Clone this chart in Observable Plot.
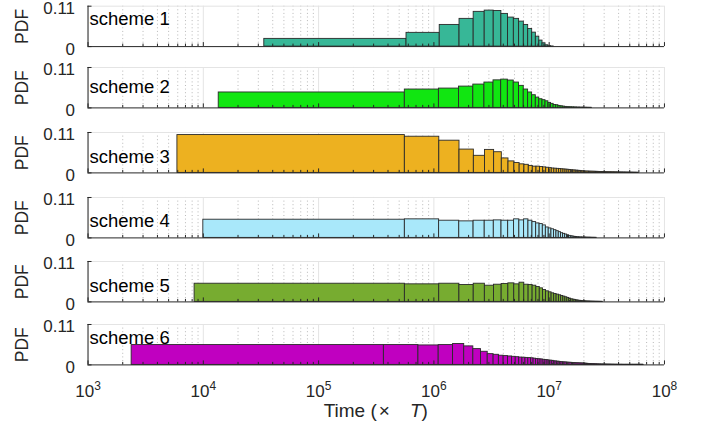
<!DOCTYPE html>
<html><head><meta charset="utf-8">
<script src="https://cdn.jsdelivr.net/npm/d3@7"></script>
<script src="https://cdn.jsdelivr.net/npm/@observablehq/plot@0.6"></script>
<style>
body{margin:0;background:#fff;}
#chart{position:relative;width:704px;height:437px;overflow:hidden;font-family:"Liberation Sans",Arial,Helvetica,sans-serif;color:#262626;}
.panel{position:absolute;left:0;}
#xlabel{position:absolute;font-size:19px;line-height:22px;text-align:center;white-space:nowrap;}
</style></head><body><div id="chart"></div>
<script>
// ---------------- data ----------------
const schemes = ["scheme 1","scheme 2","scheme 3","scheme 4","scheme 5","scheme 6"];
// first bin edge (minimum) and uniform bin width of each histogram (time, × T)
const binStart = [3.38e4, 1.36e4, 5.96e3, 1.0e4, 8.4e3, 2.39e3];
const binWidth = [5.45e5, 5.46e5, 5.54e5, 5.5e5, 5.52e5, 3.66e5];

const pdf1 = [0.021,0.0374,0.059,0.0755,0.0946,0.098,0.097,0.089,0.079,0.0755,0.068,0.059,0.048,0.038,0.027,0.0164,0.009,0.0036,0.001,0.0004];
const pdf2 = [0.042,0.05,0.0526,0.058,0.0635,0.069,0.075,0.077,0.0745,0.069,0.06,0.05,0.042,0.0345,0.028,0.0236,0.021,0.018,0.0136,0.011,
  0.008,0.0073,0.0054,0.0045,0.0036,0.0027,0.0022,0.002,0.0018,0.0016,0.0014,0.0012,0.001,0.0009,0.0008,0.0007,0.0006,0.0005,0.0004,0.0003,
  0.0003,0.0002,0.0002];
const pdf3 = [0.103,0.0985,0.0877,0.0635,0.0465,0.0626,0.0563,0.0394,0.0313,0.0268,0.0233,0.022,0.019,0.017,0.017,0.016,0.015,0.014,
  0.013,0.012,0.0115,0.011,0.0105,0.01,0.0095,0.009,0.0085,0.008,0.0075,0.007,0.0066,0.0062,0.0058,0.0054,0.005,0.0046,
  0.0042,0.004,0.0038,0.0036,0.0035,0.0034,0.0033,0.0032,0.0031,0.003,
  0.0029,0.0028,0.0027,0.0026,0.0025,0.0024,0.0023,0.0022,0.0021,0.002,
  0.0019,0.0019,0.0018,0.0018,0.0017,0.0017,0.0016,0.0016,0.0015,0.0015,
  0.0014,0.0014,0.0013,0.0013,0.0012,0.0012,0.0011,0.0011,0.001,0.001,
  0.001,0.0009,0.0009,0.0009,0.0008,0.0008,0.0008,0.0007,0.0007,0.0007,
  0.0006,0.0006,0.0006,0.0006,0.0005,0.0005,0.0005,0.0005,0.0004,0.0004,
  0.0004,0.0004,0.0003,0.0003,0.0003,0.0003,0.0003,0.0002,0.0002,0.0002,
  0.0002,0.0001];
const pdf4 = [0.0495,0.0505,0.0468,0.045,0.0468,0.0468,0.0477,0.0468,0.0468,0.0505,0.0477,0.0505,0.0468,0.043,0.0394,0.0376,0.034,0.0284,0.0258,0.0235,
  0.021,0.0183,0.0156,0.0128,0.011,0.0092,0.0073,0.0055,0.0046,0.0037,0.0028,0.0024,0.002,0.0017,0.0014,0.0012,0.001,0.0009,0.0008,0.0007,
  0.0006,0.0005,0.0004,0.0003,0.0003,0.0002,0.0002];
const pdf5 = [0.0495,0.0478,0.0495,0.0459,0.0495,0.0441,0.0468,0.0486,0.0505,0.0478,0.0523,0.0468,0.0459,0.0441,0.0405,0.0369,0.0324,0.0288,0.0261,0.0234,
  0.0216,0.0198,0.018,0.0162,0.0144,0.0126,0.0108,0.009,0.0072,0.0063,0.0054,0.0045,0.0036,0.003,0.0026,0.0022,0.0019,0.0016,0.0014,0.0012,
  0.001,0.0009,0.0008,0.0007,0.0006,0.0005,0.0004,0.0004,0.0003,0.0003,0.0002,0.0002,0.0001];
const pdf6 = [0.054,0.054,0.053,0.054,0.057,0.0504,0.043,0.0357,0.0293,0.0275,
  0.025,0.024,0.023,0.022,0.021,0.02,0.0195,0.019,0.0185,0.018,
  0.017,0.016,0.0155,0.015,0.014,0.0135,0.013,0.012,0.0115,0.011,
  0.01,0.0095,0.009,0.0085,0.008,0.0075,0.0072,0.007,0.0066,0.0063,
  0.006,0.0058,0.0056,0.0054,0.0052,0.005,0.0048,0.0046,0.0045,0.0044,
  0.0042,0.0041,0.004,0.0039,0.0038,0.0036,0.0034,0.0032,0.003,0.0028,
  0.0026,0.0025,0.0024,0.0023,0.0022,0.0021,0.002,0.0019,0.0018,0.0017,
  0.0016,0.0015,0.0014,0.0013,0.0012,0.0012,0.0011,0.0011,0.001,0.001,
  0.0009,0.0009,0.0008,0.0008,0.0008,0.0007,0.0007,0.0007,0.0006,0.0006,
  0.0006,0.0006,0.0005,0.0005,0.0005,0.0005,0.0004,0.0004,0.0004,0.0004,
  0.0004,0.0003,0.0003,0.0003,0.0003,0.0003,0.0003,0.0003,0.0002,0.0002,
  0.0002,0.0002,0.0002,0.0002,0.0002,0.0002,0.0002,0.0002,0.0002,0.0001,
  0.0002,0.0001,0.0001,0.0001,0.0001,0.0001,0.0001,0.0002,0.0001,0.0001,
  0.0001,0.0001,0.0001,0.0001,0.0001,0.0001,0.0001,0.0001,0.0001,0.0001,
  0.0001,0.0001,0.0001,0.0001,0.0001,0.0002,0.0001,0.0001,0.0001,0.0001,
  0.0001,0.0001,0.0001,0.0001,0.0001,0.0001,0.0001,0.0001,0.0001,0.0001,
  0.0001,0.0001,0.0001,0.0001,0.0001,0.0001,0.0001,0.0001,0.0001,0.0001,
  0.0001,0.0001,0.0001,0.0001,0.0001,0.0001,0.0001,0.0001,0.0001,0.0001];
const pdfs = [pdf1, pdf2, pdf3, pdf4, pdf5, pdf6];

const xTicks = [1e3, 1e4, 1e5, 1e6, 1e7, 1e8];
const xTickExponents = ["3","4","5","6","7","8"];
const yTicks = [0, 0.11];
const yTickLabels = ["0", "0.11"];

// ---------------- layout / style ----------------
const colors = ["#37b797", "#11e611", "#edb120", "#a9e8fa", "#77ac30", "#c000c0"];
const W = 704, ML = 87.5, MR = 40, PH = 40.4;
const panelTops = [5.7, 67.3, 132, 197, 260.5, 324];
const labelOffsets = [13.3, 19.7, 25, 24, 24.5, 14];
const axisColor = "#262626";
const FONT = '"Liberation Sans", Arial, Helvetica, sans-serif';
const TICK_PX = 17, YLABEL_PX = 17.5, SCHEME_PX = 18.5;

const minorTicks = [];
for (const d of xTicks.slice(0, -1)) for (let m = 2; m <= 9; m++) minorTicks.push(d * m);

const chart = document.getElementById("chart");
let lastPlot = null;

pdfs.forEach((vals, i) => {
  const bins = vals.map((v, k) => ({x1: binStart[i] + k * binWidth[i], x2: binStart[i] + (k + 1) * binWidth[i], y: v}));
  const last = i === pdfs.length - 1;
  const mt = Math.min(12, panelTops[i]), mb = last ? 75 : 10;
  const yTickData = yTicks.map((v, j) => ({v, label: yTickLabels[j]}));
  const marks = [
    Plot.ruleX(minorTicks, {stroke: "#b8b8b8", strokeDasharray: "1,2.6", strokeWidth: 1}),
    Plot.ruleX(xTicks, {stroke: "#e4e4e4", strokeWidth: 1}),
    Plot.ruleY([0.11], {stroke: "#e4e4e4", strokeWidth: 1}),
    Plot.rect(bins, {x1: "x1", x2: "x2", y1: 0, y2: "y", fill: colors[i], stroke: "#2a2a2a", strokeWidth: 0.9}),
    Plot.tickX(minorTicks, {x: d => d, stroke: axisColor, insetTop: PH - 2.5}),
    Plot.tickX(xTicks, {x: d => d, stroke: axisColor, insetTop: PH - 4}),
    Plot.ruleY([0], {stroke: axisColor}),
    Plot.ruleX([1e3], {stroke: axisColor}),
    Plot.tickY(yTicks, {y: d => d, stroke: axisColor, insetRight: (W - ML - MR) - 4}),
    Plot.text(yTickData, {x: 1e3, y: "v", text: "label", textAnchor: "end", lineAnchor: "middle", dx: -13, dy: 2.5, fontSize: TICK_PX, fill: axisColor}),
    Plot.text(["PDF"], {text: d => d, frameAnchor: "left", textAnchor: "middle", lineAnchor: "middle", rotate: -90, dx: -65.5, dy: 0, fontSize: YLABEL_PX, fill: axisColor}),
    Plot.text([schemes[i]], {text: d => d, frameAnchor: "top-left", textAnchor: "start", dx: 1.5, dy: labelOffsets[i], lineAnchor: "middle", fontSize: SCHEME_PX, fill: "#000"})
  ];
  if (last) {
    marks.push(Plot.text(xTicks, {x: d => d, text: (d, j) => "10^" + xTickExponents[j], frameAnchor: "bottom", textAnchor: "middle", lineAnchor: "middle", dy: 27, fontSize: TICK_PX, fill: axisColor}));
  }
  const p = Plot.plot({
    width: W, height: mt + PH + mb,
    marginTop: mt, marginBottom: mb, marginLeft: ML, marginRight: MR,
    x: {type: "log", domain: [1e3, 1e8], axis: null},
    y: {domain: [0, 0.11], axis: null},
    style: {fontFamily: FONT, background: "transparent", overflow: "visible"},
    marks
  });
  p.classList.add("panel");
  p.style.top = (panelTops[i] - mt) + "px";
  // make sure each text gets its intended size
  p.querySelectorAll("text").forEach(t => {
    const s = t.textContent;
    let size = TICK_PX;
    if (s === "PDF") size = YLABEL_PX;
    else if (schemes.includes(s)) size = SCHEME_PX;
    t.style.fontSize = size + "px";
  });
  chart.appendChild(p);
  if (last) lastPlot = p;
});

// superscript exponents in the x tick labels
lastPlot.querySelectorAll("text").forEach(t => {
  const s = t.textContent;
  if (/^10\^\d$/.test(s)) {
    const exp = s.split("^")[1];
    t.textContent = "10";
    const ts = document.createElementNS("http://www.w3.org/2000/svg", "tspan");
    ts.setAttribute("dy", "-7");
    ts.style.fontSize = "12px";
    ts.textContent = exp;
    t.appendChild(ts);
  }
});

const xl = document.createElement("div");
xl.id = "xlabel";
xl.style.left = ML + "px";
xl.style.width = (W - ML - MR) + "px";
xl.style.top = "400px";
xl.innerHTML = 'Time (<span style="margin-left:2px">×</span><i style="margin-left:20px">T</i>)';
chart.appendChild(xl);
</script></body></html>
